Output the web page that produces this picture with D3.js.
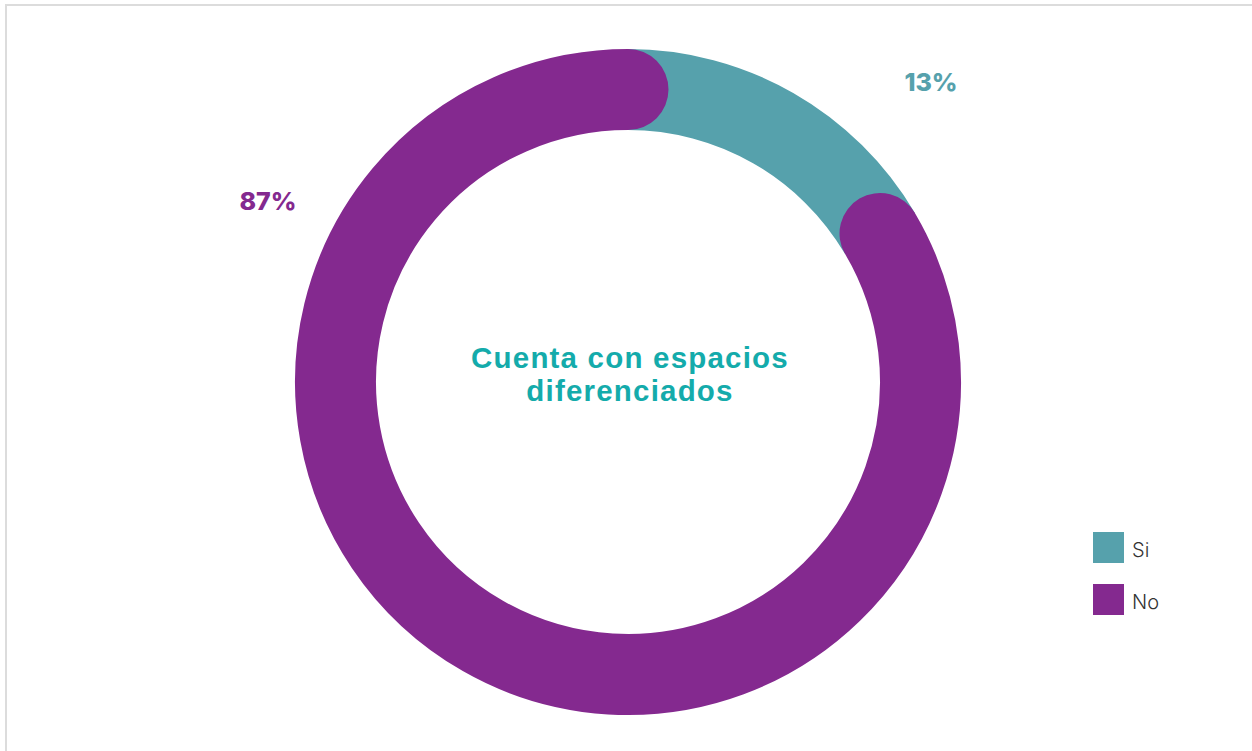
<!DOCTYPE html>
<html><head><meta charset="utf-8">
<script src="https://cdn.jsdelivr.net/npm/d3@7"></script>
<style>
html,body{margin:0;padding:0;background:#fff;}
svg{display:block;}
</style></head>
<body>
<script>
const categories = ["Si", "No"];
const values = [13, 87];
const labels = ["13%", "87%"];
const colors = ["#56a1ac", "#84298f"];
const title = ["Cuenta con espacios", "diferenciados"];

const W = 1252, H = 751;
const svg = d3.select("body").append("svg").attr("width", W).attr("height", H);

// frame
svg.append("path").attr("d", `M6,${H} L6,5 L${W},5`).attr("fill","none").attr("stroke","#dcdcdc").attr("stroke-width",2);

const cx = 628, cy = 382, rOuter = 333, rInner = 252;
const rMid = (rOuter + rInner) / 2, thick = rOuter - rInner;
const g = svg.append("g").attr("transform", `translate(${cx},${cy})`);

const pie = d3.pie().sort(null).value(d => d)(values);
const capAng = (thick / 2) / rMid;

function arcStroke(a0, a1) {
  const p = d3.path();
  p.arc(0, 0, rMid, a0 - Math.PI/2, a1 - Math.PI/2, false);
  return p.toString();
}
const nStart = pie[1].startAngle + capAng * 1.6;
const nEnd = pie[1].endAngle;

// Si: band segment running under the rounded ends of No
const arcFull = d3.arc().innerRadius(rInner).outerRadius(rOuter);
g.append("path").attr("d", arcFull({startAngle: pie[0].startAngle, endAngle: nStart})).attr("fill", colors[0]);

// No: rounded stroke arc overlapping the Si band at both ends
g.append("path").attr("d", arcStroke(nStart, nEnd))
  .attr("fill","none").attr("stroke", colors[1]).attr("stroke-width", thick).attr("stroke-linecap","round");

// percent labels
const labelPos = [[931, 91], [268, 210]];
labels.forEach((t, i) => {
  svg.append("text").attr("x", labelPos[i][0]).attr("y", labelPos[i][1])
    .attr("text-anchor","middle").attr("font-family","Inter, 'DejaVu Sans', sans-serif")
    .attr("font-weight", 800).attr("font-size", 25).attr("fill", colors[i]).text(t);
});

// center title
title.forEach((t, i) => {
  svg.append("text").attr("x", cx + 2).attr("y", 368 + i * 33)
    .attr("text-anchor","middle").attr("font-family","'Liberation Sans', Arial, sans-serif")
    .attr("font-weight", 700).attr("font-size", 29.5).attr("letter-spacing", 1.2)
    .attr("fill", "#14abab").text(t);
});

// legend
const lg = svg.append("g");
categories.forEach((c, i) => {
  const y = 532 + i * 52;
  lg.append("rect").attr("x", 1093).attr("y", y).attr("width", 31).attr("height", 31).attr("fill", colors[i]);
  lg.append("text").attr("x", 1132).attr("y", y + 25).attr("font-family","Inter, 'DejaVu Sans', sans-serif")
    .attr("font-weight", 300).attr("font-size", 20).attr("fill", "#333").text(c);
});
</script>
</body></html>
